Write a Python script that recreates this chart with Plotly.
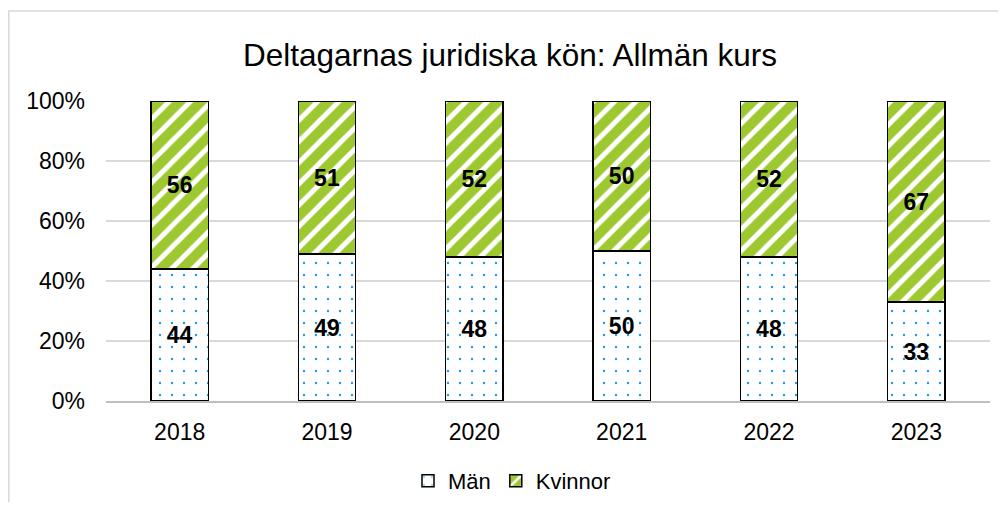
import plotly.graph_objects as go

years = ["2018", "2019", "2020", "2021", "2022", "2023"]
man = [44, 49, 48, 50, 48, 33]
kvinnor = [56, 51, 52, 50, 52, 67]
y_ticks = [0, 20, 40, 60, 80, 100]
y_tick_labels = ["0%", "20%", "40%", "60%", "80%", "100%"]

FONT = "Liberation Sans, Arial, sans-serif"
GREEN = "#9DC830"
BLUE = "#1E9BE0"

# page body has an 8px margin: figure pixel = screen pixel - 8
OFF = 8
W, H = 1006 - OFF, 510 - 2 * OFF
L, R, T, B = 106 - OFF, 990 - OFF, 101 - OFF, 401 - OFF

fig = go.Figure()
fig.add_trace(go.Bar(
    x=years, y=man, name="Män",
    text=[str(v) for v in man], textposition="inside",
    insidetextanchor="middle", textangle=0,
    textfont=dict(family=FONT, size=23, color="black", weight="bold"),
    marker=dict(color="white", line=dict(color="black", width=1.5),
                pattern=dict(shape=".", fgcolor=BLUE, bgcolor="white",
                             size=12, solidity=0.03, fillmode="replace")),
))
fig.add_trace(go.Bar(
    x=years, y=kvinnor, name="Kvinnor",
    text=[str(v) for v in kvinnor], textposition="inside",
    insidetextanchor="middle", textangle=0,
    textfont=dict(family=FONT, size=23, color="black", weight="bold"),
    marker=dict(color=GREEN, line=dict(color="black", width=1.5),
                pattern=dict(shape="/", fgcolor="white", bgcolor=GREEN,
                             size=15, solidity=0.33, fillmode="replace")),
))

def px_x(p):
    return (p - OFF - L) / (R - L)

def px_y(p):
    return (B - (p - OFF)) / (B - T)

fig.add_shape(type="rect", xref="paper", yref="paper",
              x0=px_x(8.8), x1=px_x(1030), y0=px_y(540), y1=px_y(11),
              line=dict(color="#D9D9D9", width=1.5), fillcolor="rgba(0,0,0,0)",
              layer="below")

fig.update_layout(
    width=W, height=H,
    margin=dict(l=L, r=W - R, t=T, b=H - B, autoexpand=False),
    paper_bgcolor="white", plot_bgcolor="white",
    barmode="stack", bargap=0.61,
    font=dict(family=FONT, size=23, color="#000000"),
    title=dict(text="Deltagarnas juridiska kön: Allmän kurs",
               font=dict(family=FONT, size=31.5, color="#000000"),
               x=(510 - OFF) / W, xref="container", xanchor="center",
               y=1 - (55 - OFF) / H, yref="container", yanchor="middle"),
    showlegend=True,
    legend=dict(orientation="h", x=px_x(512), y=px_y(481),
                xanchor="center", yanchor="middle",
                font=dict(family=FONT, size=22, color="#000000"),
                itemwidth=30, traceorder="normal"),
    uniformtext=dict(mode=False),
)
fig.update_xaxes(showgrid=False, showline=True, linecolor="#BFBFBF", linewidth=1.5,
                 ticks="", ticklabelstandoff=10,
                 tickfont=dict(family=FONT, size=23, color="#000000"))
fig.update_yaxes(range=[0, 100], tickmode="array", tickvals=y_ticks,
                 ticktext=y_tick_labels,
                 showgrid=True, gridcolor="#D9D9D9", gridwidth=1.5,
                 zeroline=False, ticks="", ticklabelstandoff=20,
                 tickfont=dict(family=FONT, size=23, color="#000000"))

fig.write_html("out.html")
